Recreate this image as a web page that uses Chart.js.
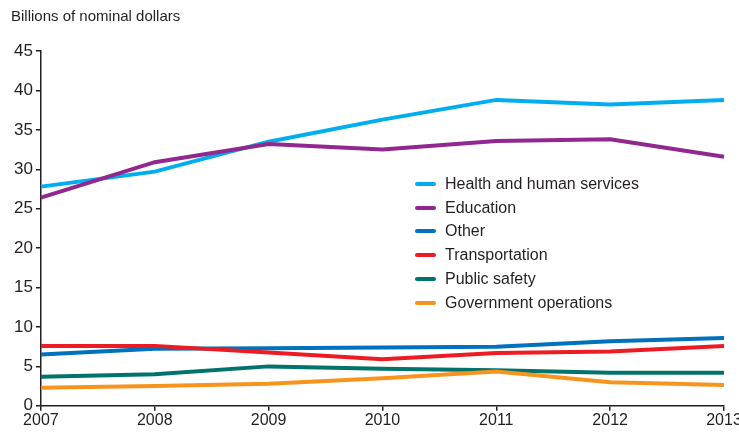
<!DOCTYPE html>
<html>
<head>
<meta charset="utf-8">
<script src="https://cdn.jsdelivr.net/npm/chart.js@4/dist/chart.umd.min.js"></script>
<style>
  html, body { margin: 0; padding: 0; background: #fff; overflow: hidden; }
  #wrap { position: relative; width: 760px; height: 433px; }
  #legend { position: absolute; left: 415px; top: 172px; font-family: 'Liberation Sans Narrow', 'Arial Narrow', 'Liberation Sans', sans-serif; font-size: 16px; color: #231f20; }
  #legend div { height: 23.8px; display: flex; align-items: center; }
  #legend span.sw { display: inline-block; width: 21px; height: 4px; border-radius: 2px; margin-right: 9px; }
</style>
</head>
<body>
<div id="wrap">
  <canvas id="chart" width="760" height="433"></canvas>
  <div id="legend"></div>
</div>
<script>
const years = ['2007', '2008', '2009', '2010', '2011', '2012', '2013'];

const health = [27.8, 29.7, 33.5, 36.3, 38.8, 38.2, 38.8];
const education = [26.4, 30.9, 33.2, 32.5, 33.6, 33.8, 31.6];
const other = [6.5, 7.25, 7.3, 7.4, 7.5, 8.2, 8.6];
const transportation = [7.6, 7.6, 6.75, 5.9, 6.7, 6.9, 7.6];
const publicSafety = [3.7, 4.0, 5.0, 4.7, 4.5, 4.2, 4.2];
const govOps = [2.3, 2.5, 2.8, 3.5, 4.35, 3.0, 2.65];

const font = "'Liberation Sans Narrow', 'Arial Narrow', 'Liberation Sans', sans-serif";
const ink = '#231f20';

function series(label, data, color) {
    return {
        label: label,
        data: data,
        borderColor: color,
        backgroundColor: color,
        borderWidth: 4,
        pointRadius: 0,
        tension: 0,
        fill: false
    };
}

const datasets = [
    series('Health and human services', health, '#00aeef'),
    series('Education', education, '#92278f'),
    series('Other', other, '#0072bc'),
    series('Transportation', transportation, '#ed1c24'),
    series('Public safety', publicSafety, '#00736a'),
    series('Government operations', govOps, '#f7941d')
];

// draw lowest series first so the top ones sit on top, like the original
const drawOrder = datasets.slice().reverse();

const ctx = document.getElementById('chart');
const chart = new Chart(ctx, {
    type: 'line',
    data: { labels: years, datasets: drawOrder },
    options: {
        responsive: false,
        animation: false,
        layout: { padding: { left: 11, right: 36, top: 1, bottom: 3 } },
        plugins: {
            legend: { display: false },
            tooltip: { enabled: false },
            title: {
                display: true,
                text: 'Billions of nominal dollars',
                align: 'start',
                color: ink,
                font: { family: font, size: 15, weight: 'normal' },
                padding: { top: 7, bottom: 25 }
            }
        },
        scales: {
            x: {
                offset: false,
                border: { color: ink, width: 1.5 },
                grid: { display: true, drawOnChartArea: false, tickLength: 5, color: ink, lineWidth: 1.5 },
                ticks: { color: ink, font: { family: font, size: 16 }, padding: 0, maxRotation: 0, autoSkip: false }
            },
            y: {
                min: 0,
                max: 45,
                border: { color: ink, width: 1.5 },
                grid: { display: true, drawOnChartArea: false, tickLength: 5, color: ink, lineWidth: 1.5 },
                ticks: { stepSize: 5, color: ink, font: { family: font, size: 17 }, padding: 3 }
            }
        }
    }
});

const legend = document.getElementById('legend');
datasets.forEach(ds => {
    const row = document.createElement('div');
    row.innerHTML = '<span class="sw" style="background:' + ds.borderColor + '"></span>' + ds.label;
    legend.appendChild(row);
});
</script>
</body>
</html>
